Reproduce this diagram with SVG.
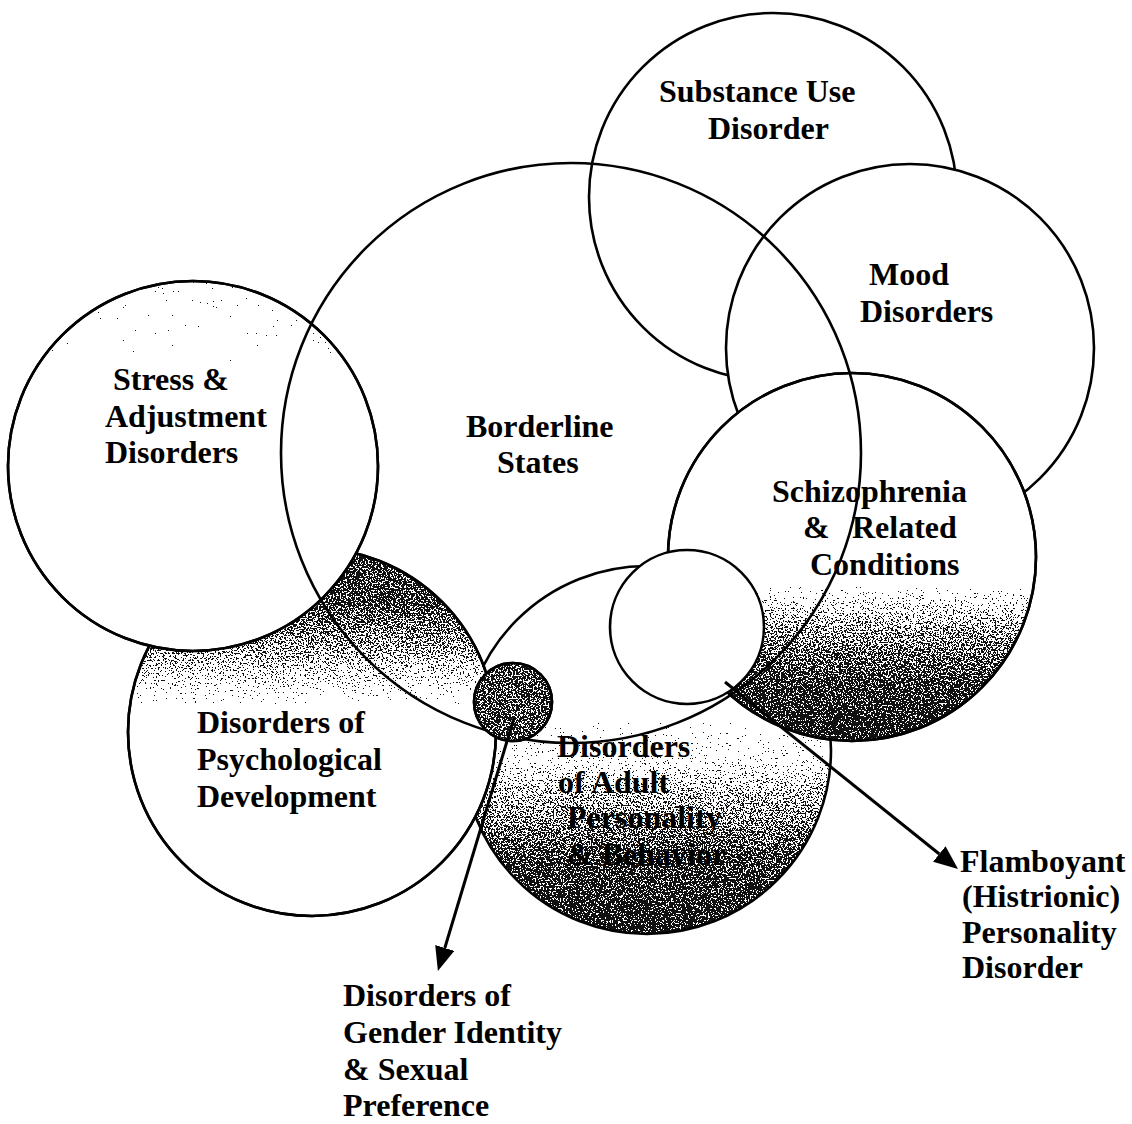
<svg xmlns="http://www.w3.org/2000/svg" width="1132" height="1124" viewBox="0 0 1132 1124">
<style>
.c{fill:#fff;stroke:#000;stroke-width:2.6}
.o{fill:none;stroke:#000;stroke-width:2.6}
.s{stroke:none;filter:url(#stip)}
.t{font-family:"Liberation Serif","Times New Roman",serif;font-weight:bold;font-size:32px;fill:#000}
.a{stroke:#000;stroke-width:3;fill:none;marker-end:url(#ah)}
</style>
<defs>
<filter id="stip" x="-5%" y="-5%" width="110%" height="110%" color-interpolation-filters="sRGB">
<feTurbulence type="fractalNoise" baseFrequency="0.6" numOctaves="2" seed="7" result="n"/>
<feColorMatrix in="n" type="matrix" values="0 0 0 0 0  0 0 0 0 0  0 0 0 0 0  2.5 0 0 0 -0.6" result="na"/>
<feComposite in="SourceAlpha" in2="na" operator="arithmetic" k2="1" k3="-1" k4="0.49" result="d"/>
<feComponentTransfer in="d" result="t"><feFuncA type="discrete" tableValues="0 1"/></feComponentTransfer>
<feFlood flood-color="#111"/>
<feComposite in2="t" operator="in"/>
</filter>
<filter id="stipL" x="-5%" y="-5%" width="110%" height="110%" color-interpolation-filters="sRGB">
<feTurbulence type="fractalNoise" baseFrequency="0.6" numOctaves="2" seed="11" result="n"/>
<feColorMatrix in="n" type="matrix" values="0 0 0 0 0  0 0 0 0 0  0 0 0 0 0  2.5 0 0 0 -0.25" result="na"/>
<feComposite in="SourceAlpha" in2="na" operator="arithmetic" k2="1" k3="-1" k4="0.49" result="d"/>
<feComponentTransfer in="d" result="t"><feFuncA type="discrete" tableValues="0 1"/></feComponentTransfer>
<feFlood flood-color="#111"/>
<feComposite in2="t" operator="in"/>
</filter>
<linearGradient id="gStress" gradientUnits="userSpaceOnUse" x1="0" y1="280" x2="0" y2="390">
<stop offset="0" stop-color="#000" stop-opacity="0.34"/><stop offset="0.6" stop-color="#000" stop-opacity="0.24"/><stop offset="1" stop-color="#000" stop-opacity="0"/>
</linearGradient>
<linearGradient id="gPD" gradientUnits="userSpaceOnUse" x1="0" y1="548" x2="0" y2="705">
<stop offset="0" stop-color="#000" stop-opacity="0.9"/><stop offset="0.35" stop-color="#000" stop-opacity="0.82"/><stop offset="0.65" stop-color="#000" stop-opacity="0.55"/><stop offset="0.85" stop-color="#000" stop-opacity="0.25"/><stop offset="1" stop-color="#000" stop-opacity="0"/>
</linearGradient>
<linearGradient id="gAdult" gradientUnits="userSpaceOnUse" x1="0" y1="720" x2="0" y2="935">
<stop offset="0" stop-color="#000" stop-opacity="0"/><stop offset="0.18" stop-color="#000" stop-opacity="0.15"/><stop offset="0.35" stop-color="#000" stop-opacity="0.5"/><stop offset="0.65" stop-color="#000" stop-opacity="0.85"/><stop offset="1" stop-color="#000" stop-opacity="0.97"/>
</linearGradient>
<linearGradient id="gSch" gradientUnits="userSpaceOnUse" x1="0" y1="585" x2="0" y2="742">
<stop offset="0" stop-color="#000" stop-opacity="0"/><stop offset="0.1" stop-color="#000" stop-opacity="0.25"/><stop offset="0.3" stop-color="#000" stop-opacity="0.6"/><stop offset="0.65" stop-color="#000" stop-opacity="0.88"/><stop offset="1" stop-color="#000" stop-opacity="0.98"/>
</linearGradient>
<marker id="ah" markerUnits="userSpaceOnUse" markerWidth="26" markerHeight="22" refX="0" refY="10" orient="auto">
<path d="M0,0 L24,10 L0,20 z" fill="#000"/>
</marker>
</defs>

<g id="substance-use">
<circle class="c" cx="773" cy="197" r="184"/>
</g>
<g id="mood">
<circle class="c" cx="910" cy="348" r="184"/>
</g>
<g id="adult-personality">
<circle class="s" cx="647" cy="750" r="184" fill="url(#gAdult)"/>
<circle class="o" cx="647" cy="750" r="184"/>
</g>
<g id="psychological-development">
<circle class="c" cx="312" cy="732" r="184"/>
<circle class="s" cx="312" cy="732" r="184" fill="url(#gPD)"/>
<circle class="o" cx="312" cy="732" r="184"/>
</g>
<g id="stress">
<circle class="c" cx="193" cy="466" r="185"/>
<circle cx="193" cy="466" r="185" fill="url(#gStress)" stroke="none" filter="url(#stipL)"/>
<circle class="o" cx="193" cy="466" r="185"/>
</g>
<g id="schizophrenia">
<circle class="c" cx="852" cy="557" r="184"/>
<circle class="s" cx="852" cy="557" r="184" fill="url(#gSch)"/>
<circle class="o" cx="852" cy="557" r="184"/>
</g>
<g id="flamboyant-circle">
<circle class="c" cx="687" cy="627" r="77"/>
</g>
<g id="borderline">
<circle class="o" cx="571" cy="453" r="290"/>
</g>
<g id="gender-circle">
<circle class="c" cx="513" cy="702" r="39"/>
<circle class="s" cx="513" cy="702" r="39" fill="#000" fill-opacity="0.8"/>
<circle class="o" cx="513" cy="702" r="39" stroke-width="3"/>
</g>

<g id="connectors">
<line class="a" x1="514" y1="718" x2="444.8" y2="948.0"/>
<line class="a" x1="725" y1="682" x2="939.3" y2="854.0"/>
</g>

<g id="labels">
<text class="t"><tspan x="659" y="102">Substance Use</tspan><tspan x="708" y="139">Disorder</tspan></text>
<text class="t"><tspan x="869" y="285">Mood</tspan><tspan x="860" y="322">Disorders</tspan></text>
<text class="t"><tspan x="113" y="390">Stress &amp;</tspan><tspan x="105" y="427">Adjustment</tspan><tspan x="105" y="463">Disorders</tspan></text>
<text class="t"><tspan x="466" y="437">Borderline</tspan><tspan x="497" y="473">States</tspan></text>
<text class="t"><tspan x="772" y="502">Schizophrenia</tspan><tspan x="803" y="538">&amp;</tspan><tspan x="852" y="538">Related</tspan><tspan x="810" y="575">Conditions</tspan></text>
<text class="t"><tspan x="197" y="733">Disorders of</tspan><tspan x="197" y="770">Psychological</tspan><tspan x="197" y="807">Development</tspan></text>
<text class="t"><tspan x="557" y="757">Disorders</tspan><tspan x="558" y="793">of Adult</tspan><tspan x="567" y="828">Personality</tspan><tspan x="567" y="865">&amp; Behavior</tspan></text>
<text class="t"><tspan x="960" y="872">Flamboyant</tspan><tspan x="962" y="907">(Histrionic)</tspan><tspan x="962" y="943">Personality</tspan><tspan x="962" y="978">Disorder</tspan></text>
<text class="t"><tspan x="343" y="1006">Disorders of</tspan><tspan x="343" y="1043">Gender Identity</tspan><tspan x="343" y="1080">&amp; Sexual</tspan><tspan x="343" y="1116">Preference</tspan></text>
</g>
</svg>
